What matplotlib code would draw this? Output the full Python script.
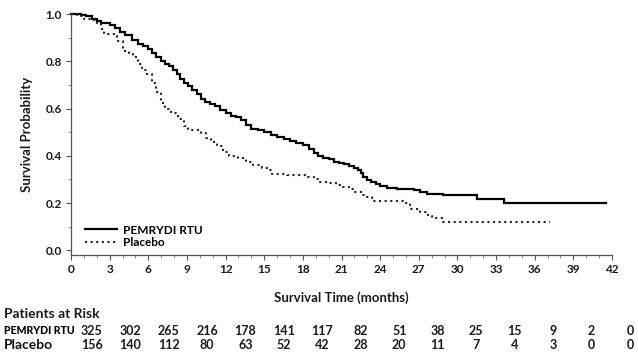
import matplotlib
matplotlib.use("Agg")
import matplotlib.pyplot as plt
from matplotlib.ticker import MultipleLocator

plt.rcParams['font.family'] = ['Lato', 'DejaVu Sans']

# ---- data ----
pem_label = "PEMRYDI RTU"
pbo_label = "Placebo"

pem_t = [0, 0.8, 1.2, 1.6, 2.0, 2.3, 3.0, 3.4, 3.8, 4.2, 4.7, 5.2, 5.6, 6.0, 6.3, 6.6, 7.0, 7.3,
         7.6, 7.9, 8.2, 8.5, 8.8, 9.1, 9.4, 9.8, 10.1, 10.4, 10.8, 11.2, 11.6, 12.0, 12.4, 12.8,
         13.2, 13.6, 14.0, 14.5, 15.0, 15.5, 16.0, 16.5, 17.0, 17.5, 18.0, 18.5, 18.9, 19.2,
         19.6, 20.0, 20.4, 20.8, 21.2, 21.6, 22.0, 22.3, 22.5, 22.7, 23.0, 23.3, 23.7, 24.0,
         24.5, 25.3, 26.6, 27.1, 27.6, 28.9, 31.5, 33.6, 41.5]
pem_s = [1.0, 0.995, 0.99, 0.98, 0.97, 0.962, 0.955, 0.94, 0.925, 0.91, 0.89, 0.875, 0.865,
         0.85, 0.835, 0.82, 0.80, 0.79, 0.78, 0.765, 0.745, 0.725, 0.71, 0.695, 0.68, 0.66,
         0.64, 0.628, 0.62, 0.61, 0.595, 0.58, 0.57, 0.565, 0.55, 0.53, 0.515, 0.508, 0.50,
         0.49, 0.48, 0.47, 0.462, 0.455, 0.445, 0.43, 0.41, 0.398, 0.392, 0.385, 0.375, 0.37,
         0.365, 0.358, 0.35, 0.34, 0.325, 0.31, 0.298, 0.29, 0.28, 0.272, 0.265, 0.26, 0.253,
         0.247, 0.24, 0.232, 0.218, 0.20, 0.20]

pbo_t = [0, 0.5, 1.0, 1.5, 2.0, 2.3, 2.6, 3.3, 3.6, 4.0, 4.5, 4.8, 5.2, 5.5, 5.9, 6.3, 6.6,
         7.0, 7.3, 7.8, 8.3, 8.8, 9.1, 10.1, 10.5, 10.9, 11.3, 11.8, 12.3, 13.0, 13.6, 14.1,
         14.8, 15.3, 15.6, 16.8, 18.4, 18.9, 19.3, 20.0, 20.6, 21.1, 21.6, 22.0, 22.6, 23.0,
         23.4, 25.8, 26.3, 27.1, 27.7, 28.0, 28.9, 37.2]
pbo_s = [1.0, 0.99, 0.98, 0.975, 0.96, 0.935, 0.915, 0.905, 0.885, 0.845, 0.835, 0.82, 0.79,
         0.765, 0.745, 0.71, 0.67, 0.625, 0.60, 0.58, 0.555, 0.525, 0.51, 0.495, 0.475, 0.46,
         0.44, 0.415, 0.40, 0.39, 0.375, 0.36, 0.35, 0.34, 0.322, 0.32, 0.31, 0.30, 0.29,
         0.283, 0.275, 0.266, 0.258, 0.245, 0.235, 0.225, 0.21, 0.20, 0.175, 0.16, 0.145,
         0.135, 0.12, 0.12]

risk_times = [0, 3, 6, 9, 12, 15, 18, 21, 24, 27, 30, 33, 36, 39, 42]
pem_risk = [325, 302, 265, 216, 178, 141, 117, 82, 51, 38, 25, 15, 9, 2, 0]
pbo_risk = [156, 140, 112, 80, 63, 52, 42, 28, 20, 11, 7, 4, 3, 0, 0]

# ---- figure ----
fig = plt.figure(figsize=(6.38, 3.56), dpi=100)
ax = fig.add_axes([71/638, 1-255/356, (612-71)/638, (255-14)/356])

ax.plot(pem_t, pem_s, drawstyle='steps-post', color='black', lw=1.6, label=pem_label,
        clip_on=False, solid_joinstyle='miter')
ax.plot(pbo_t, pbo_s, drawstyle='steps-post', color='#222222', lw=1.5,
        linestyle=(0, (1, 1.7)), label=pbo_label, clip_on=False)

ax.set_xlim(0, 42)
ax.set_ylim(-0.02, 1.0)
ax.xaxis.set_major_locator(MultipleLocator(3))
ax.xaxis.set_minor_locator(MultipleLocator(1))
ax.set_yticks([0.0, 0.2, 0.4, 0.6, 0.8, 1.0])
ax.set_yticklabels(['0.0', '0.2', '0.4', '0.6', '0.8', '1.0'])
ax.yaxis.set_minor_locator(MultipleLocator(0.1))
for s in ['top', 'right']:
    ax.spines[s].set_visible(False)
for s in ['left', 'bottom']:
    ax.spines[s].set_color('#555555')
    ax.spines[s].set_linewidth(0.9)
ax.tick_params(axis='both', which='major', length=3.5, width=0.8, color='#555555',
               labelsize=8.5, labelcolor='#1a1a1a', pad=3)
ax.tick_params(axis='both', which='minor', length=2, width=0.6, color='#777777')
for lab in ax.get_xticklabels() + ax.get_yticklabels():
    lab.set_fontweight('bold')

ax.set_xlabel('Survival Time (months)', fontsize=9.5, fontweight='bold', labelpad=12,
              color='#1a1a1a')
ax.set_ylabel('Survival Probability', fontsize=9.5, fontweight='bold', labelpad=9,
              color='#1a1a1a')

leg = ax.legend(loc='lower left', bbox_to_anchor=(0.01, -0.005), frameon=False,
                handlelength=2.7, fontsize=8.5, handletextpad=0.55, labelspacing=0.12,
                borderaxespad=0.3)
for t in leg.get_texts():
    t.set_fontweight('bold')

# ---- patients at risk table ----
fig.text(4/638, 1-314/356, 'Patients at Risk', fontsize=10, fontweight='bold',
         va='center', ha='left', color='#1a1a1a')
fig.text(4/638, 1-331/356, pem_label, fontsize=7.6, fontweight='black',
         va='center', ha='left', color='#000000')
fig.text(4/638, 1-345/356, pbo_label, fontsize=10, fontweight='bold',
         va='center', ha='left', color='#111111')

col_x0 = 91.7
col_dx = (630 - 91.7) / (len(risk_times) - 1)
for i, (a, b) in enumerate(zip(pem_risk, pbo_risk)):
    x = (col_x0 + i * col_dx) / 638
    fig.text(x, 1-331/356, str(a), fontsize=9, ha='center', va='center', color='#1a1a1a',
             fontweight='bold')
    fig.text(x, 1-345/356, str(b), fontsize=9, ha='center', va='center', color='#1a1a1a',
             fontweight='bold')

fig.savefig('out.png', dpi=100)
